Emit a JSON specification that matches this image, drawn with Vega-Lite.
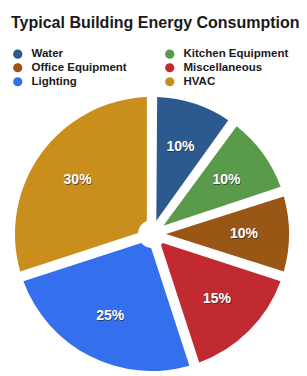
{
  "$schema": "https://vega.github.io/schema/vega-lite/v6.json",
  "width": 300,
  "height": 280,
  "autosize": "none",
  "padding": {"left": 2, "top": 94, "right": 5, "bottom": 0},
  "background": "white",
  "title": {
    "text": "Typical Building Energy Consumption",
    "anchor": "start",
    "font": "Liberation Sans",
    "fontSize": 16,
    "fontWeight": "bold",
    "color": "#1a1a1a",
    "dx": 9,
    "offset": 17
  },
  "data": {
    "values": [
      {"category": "Water", "share": 0.10, "idx": 1},
      {"category": "Kitchen Equipment", "share": 0.10, "idx": 2},
      {"category": "Office Equipment", "share": 0.10, "idx": 3},
      {"category": "Miscellaneous", "share": 0.15, "idx": 4},
      {"category": "Lighting", "share": 0.25, "idx": 5},
      {"category": "HVAC", "share": 0.30, "idx": 6}
    ]
  },
  "encoding": {
    "theta": {"field": "share", "type": "quantitative", "stack": true},
    "order": {"field": "idx", "type": "quantitative"}
  },
  "layer": [
    {
      "mark": {"type": "arc", "outerRadius": 137, "innerRadius": 14, "padAngle": 0.075},
      "encoding": {
        "color": {
          "field": "category",
          "type": "nominal",
          "scale": {
            "domain": ["Water", "Kitchen Equipment", "Office Equipment", "Miscellaneous", "Lighting", "HVAC"],
            "range": ["#2D5A8E", "#5A9A4B", "#9A5614", "#C12A31", "#3470EE", "#C98E1B"]
          },
          "legend": {
            "orient": "none",
            "direction": "horizontal",
            "legendX": 10,
            "legendY": -46,
            "columns": 2,
            "title": null,
            "symbolType": "circle",
            "symbolSize": 85,
            "symbolStrokeWidth": 0,
            "labelFont": "Liberation Sans",
            "labelFontSize": 11.5,
            "labelFontWeight": "bold",
            "labelColor": "#1a1a1a",
            "labelOffset": 8,
            "columnPadding": 37,
            "rowPadding": 1
          }
        }
      }
    },
    {
      "mark": {"type": "text", "radius": 92, "dx": 0.7, "dy": 1.2, "font": "Liberation Sans", "fontSize": 14, "fontWeight": "bold"},
      "encoding": {
        "text": {"field": "share", "type": "quantitative", "format": ".0%"},
        "color": {"value": "#2a2a2a"},
        "opacity": {"value": 0.7}
      }
    },
    {
      "mark": {"type": "text", "radius": 92, "font": "Liberation Sans", "fontSize": 14, "fontWeight": "bold"},
      "encoding": {
        "text": {"field": "share", "type": "quantitative", "format": ".0%"},
        "color": {"value": "white"}
      }
    }
  ]
}
